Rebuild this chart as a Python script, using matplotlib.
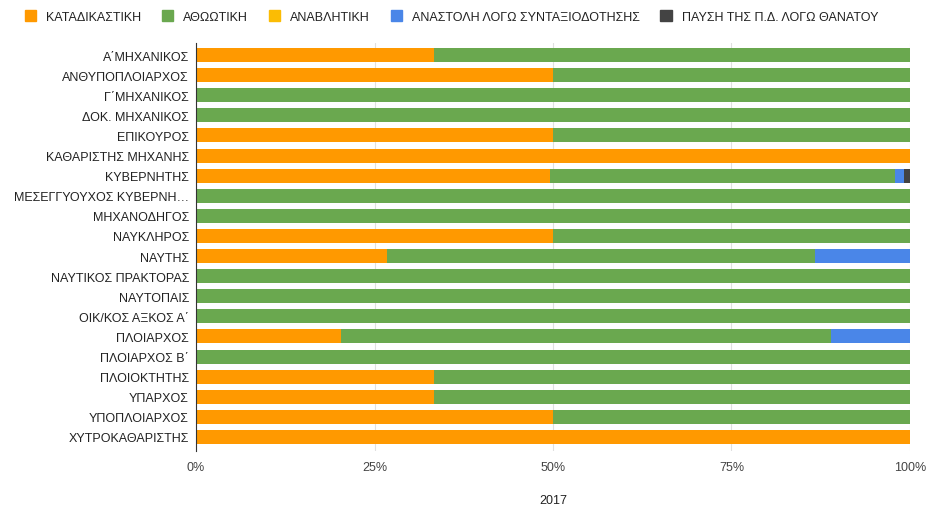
import matplotlib.pyplot as plt
import numpy as np
from matplotlib.patches import Patch
from matplotlib.ticker import FuncFormatter

plt.rcParams['font.family'] = ['Liberation Sans', 'DejaVu Sans']

categories = [
    "Α΄ΜΗΧΑΝΙΚΟΣ", "ΑΝΘΥΠΟΠΛΟΙΑΡΧΟΣ", "Γ΄ΜΗΧΑΝΙΚΟΣ", "ΔΟΚ. ΜΗΧΑΝΙΚΟΣ",
    "ΕΠΙΚΟΥΡΟΣ", "ΚΑΘΑΡΙΣΤΗΣ ΜΗΧΑΝΗΣ", "ΚΥΒΕΡΝΗΤΗΣ", "ΜΕΣΕΓΓΥΟΥΧΟΣ ΚΥΒΕΡΝΗ…",
    "ΜΗΧΑΝΟΔΗΓΟΣ", "ΝΑΥΚΛΗΡΟΣ", "ΝΑΥΤΗΣ", "ΝΑΥΤΙΚΟΣ ΠΡΑΚΤΟΡΑΣ",
    "ΝΑΥΤΟΠΑΙΣ", "ΟΙΚ/ΚΟΣ ΑΞΚΟΣ Α΄", "ΠΛΟΙΑΡΧΟΣ", "ΠΛΟΙΑΡΧΟΣ Β΄",
    "ΠΛΟΙΟΚΤΗΤΗΣ", "ΥΠΑΡΧΟΣ", "ΥΠΟΠΛΟΙΑΡΧΟΣ", "ΧΥΤΡΟΚΑΘΑΡΙΣΤΗΣ",
]

series_names = ["ΚΑΤΑΔΙΚΑΣΤΙΚΗ", "ΑΘΩΩΤΙΚΗ", "ΑΝΑΒΛΗΤΙΚΗ",
                "ΑΝΑΣΤΟΛΗ ΛΟΓΩ ΣΥΝΤΑΞΙΟΔΟΤΗΣΗΣ", "ΠΑΥΣΗ ΤΗΣ Π.Δ. ΛΟΓΩ ΘΑΝΑΤΟΥ"]
colors = ["#ff9900", "#6aa84f", "#fbbc04", "#4a86e8", "#434343"]

# shares in percent, one list per series
katadikastiki = [33.3, 50, 0, 0, 50, 100, 49.6, 0, 0, 50, 26.7, 0, 0, 0, 20.3, 0, 33.3, 33.3, 50, 100]
athootiki = [66.7, 50, 100, 100, 50, 0, 48.3, 100, 100, 50, 60.0, 100, 100, 100, 68.6, 100, 66.7, 66.7, 50, 0]
anavlitiki = [0] * 20
anastoli = [0, 0, 0, 0, 0, 0, 1.3, 0, 0, 0, 13.3, 0, 0, 0, 11.1, 0, 0, 0, 0, 0]
pafsi = [0, 0, 0, 0, 0, 0, 0.8, 0, 0, 0, 0, 0, 0, 0, 0, 0, 0, 0, 0, 0]

series = [katadikastiki, athootiki, anavlitiki, anastoli, pafsi]

fig = plt.figure(figsize=(9.27, 5.10), dpi=100)
ax = fig.add_axes([196 / 927, 1 - 452 / 510, 714 / 927, 408 / 510])

y = np.arange(len(categories))
left = np.zeros(len(categories))
for vals, col in zip(series, colors):
    vals = np.array(vals, dtype=float)
    ax.barh(y, vals, left=left, height=0.7, color=col, zorder=2)
    left += vals

ax.set_ylim(len(categories) - 0.5 + 0.2, -0.5 - 0.1)
ax.set_xlim(0, 100)
ax.set_yticks(y)
ax.set_yticklabels(categories, fontsize=9, color="#222222")
ax.set_xticks([0, 25, 50, 75, 100])
ax.xaxis.set_major_formatter(FuncFormatter(lambda v, p: f"{int(v)}%"))
ax.tick_params(axis='x', length=0, labelsize=9, labelcolor="#444444", pad=7)
ax.tick_params(axis='y', length=0, pad=5)
ax.grid(axis='x', color="#e0e0e0", linewidth=0.8, zorder=0)
for s in ["top", "right", "bottom"]:
    ax.spines[s].set_visible(False)
ax.spines["left"].set_color("#333333")
ax.spines["left"].set_linewidth(0.8)
ax.set_xlabel("2017", fontsize=9, color="#222222", labelpad=15)

handles = [Patch(facecolor=c, edgecolor=c) for c in colors]
fig.legend(handles, series_names, loc="upper left", bbox_to_anchor=(0.015, 1.0),
           ncol=5, frameon=False, fontsize=9, handlelength=0.9, handleheight=0.9,
           handletextpad=0.8, columnspacing=1.65, labelcolor="#222222")

fig.savefig("out.png", dpi=100)
